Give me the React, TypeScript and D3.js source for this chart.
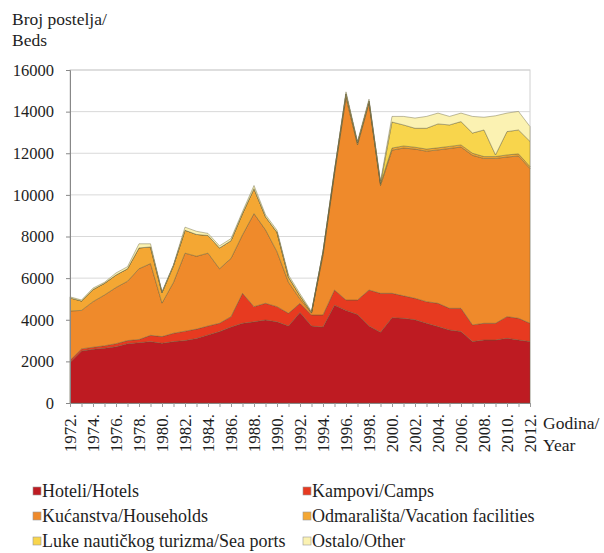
import * as d3 from "d3";
import { useEffect, useRef } from "react";

// Broj postelja po vrsti smještaja, 1972.-2012.
const years = d3.range(1972, 2013);

const hotels = [
  1950, 2500, 2580, 2630, 2700, 2850, 2900, 2950, 2870, 2950, 3000, 3100, 3270,
  3430, 3650, 3830, 3900, 3990, 3900, 3700, 4350, 3700, 3650, 4700, 4450, 4250,
  3700, 3400, 4100, 4070, 4000, 3830, 3670, 3510, 3430, 2950, 3030, 3030, 3110,
  3030, 2950,
];
const camps = [
  100, 100, 100, 120, 150, 150, 150, 300, 320, 400, 450, 450, 430, 400, 500,
  1440, 730, 800, 730, 610, 440, 530, 580, 730, 500, 700, 1730, 1870, 1170,
  1080, 1030, 1040, 1120, 1040, 1120, 800, 800, 800, 1040, 1040, 880,
];
const households = [
  2370, 1850, 2190, 2440, 2700, 2850, 3400, 3450, 1610, 2450, 3750, 3500, 3500,
  2620, 2800, 2810, 4470, 3530, 2640, 1490, 210, 90, 2870, 5570, 9720, 7450,
  8970, 5180, 6880, 7100, 7170, 7230, 7370, 7680, 7750, 8150, 7920, 7920, 7670,
  7800, 7430,
];
const vacation = [
  630, 450, 580, 560, 600, 600, 1000, 800, 500, 800, 1100, 1050, 850, 1000, 850,
  1020, 1200, 630, 930, 250, 150, 30, 150, 150, 180, 100, 100, 100, 100, 100,
  90, 100, 100, 100, 100, 100, 90, 90, 100, 100, 100,
];
const seaPorts = [
  0, 0, 0, 0, 0, 0, 0, 0, 0, 0, 0, 0, 0, 0, 0, 0, 0, 0, 0, 0, 0, 0, 0, 0, 0, 0,
  0, 0, 1250, 1010, 910, 1000, 1150, 1030, 1120, 970, 1280, 80, 1120, 1150,
  1210,
];
const other = [
  50, 50, 70, 50, 100, 100, 200, 150, 50, 50, 150, 150, 100, 100, 100, 100, 150,
  100, 100, 100, 100, 50, 50, 50, 100, 70, 100, 100, 270, 410, 490, 570, 520,
  410, 410, 800, 610, 1880, 890, 890, 710,
];

const seriesNames = [
  "Hoteli/Hotels",
  "Kampovi/Camps",
  "Kućanstva/Households",
  "Odmarališta/Vacation facilities",
  "Luke nautičkog turizma/Sea ports",
  "Ostalo/Other",
];
const seriesValues = [hotels, camps, households, vacation, seaPorts, other];
const colors = ["#be1b22", "#e73a20", "#ef8a2b", "#f4a733", "#f8d54c", "#fbf2b2"];
const yTicks = [0, 2000, 4000, 6000, 8000, 10000, 12000, 14000, 16000];

type Row = { year: number } & Record<string, number>;

const App = () => {
  const ref = useRef<SVGSVGElement>(null);

  useEffect(() => {
    const width = 604;
    const height = 553;
    const margin = { top: 70, right: 74, bottom: 150, left: 70 };
    const font = '"Liberation Serif", "DejaVu Serif", "Times New Roman", serif';
    const textColor = "#1e1e1e";

    const rows: Row[] = years.map((year, i) => {
      const r: Row = { year } as Row;
      seriesNames.forEach((name, s) => (r[name] = seriesValues[s][i]));
      return r;
    });

    const stacked = d3.stack<Row>().keys(seriesNames)(rows);

    const x = d3
      .scaleLinear()
      .domain([1972, 2012])
      .range([margin.left, width - margin.right]);
    const y = d3
      .scaleLinear()
      .domain([0, 16000])
      .range([height - margin.bottom, margin.top]);

    const svg = d3.select(ref.current);
    svg.selectAll("*").remove();
    svg.style("font-family", font);

    // grid
    svg
      .append("g")
      .selectAll("line")
      .data(yTicks.slice(1))
      .join("line")
      .attr("x1", margin.left)
      .attr("x2", width - margin.right)
      .attr("y1", (d) => y(d))
      .attr("y2", (d) => y(d))
      .attr("stroke", "#d9d9d9")
      .attr("stroke-width", 1);

    svg
      .append("rect")
      .attr("x", margin.left)
      .attr("y", margin.top)
      .attr("width", width - margin.left - margin.right)
      .attr("height", height - margin.top - margin.bottom)
      .attr("fill", "none")
      .attr("stroke", "#d0d0d0");

    const area = d3
      .area<d3.SeriesPoint<Row>>()
      .x((d) => x(d.data.year))
      .y0((d) => y(d[0]))
      .y1((d) => y(d[1]));

    svg
      .append("g")
      .selectAll("path")
      .data(stacked)
      .join("path")
      .attr("d", (d) => area(d))
      .attr("fill", (d, i) => colors[i])
      .attr("stroke", "rgba(95,90,55,0.45)")
      .attr("stroke-width", 0.9)
      .attr("stroke-linejoin", "round");

    // y axis
    const yAxis = svg
      .append("g")
      .attr("transform", `translate(${margin.left},0)`)
      .call(d3.axisLeft(y).tickValues(yTicks).tickSize(4).tickFormat(d3.format("d")));
    yAxis.select(".domain").attr("stroke", "#888");
    yAxis.selectAll(".tick line").attr("stroke", "#888");
    yAxis
      .selectAll(".tick text")
      .style("font-family", font)
      .attr("font-size", 16.5)
      .attr("fill", textColor)
      .attr("x", -16);

    // x axis
    const xAxis = svg
      .append("g")
      .attr("transform", `translate(0,${height - margin.bottom})`)
      .call(
        d3
          .axisBottom(x)
          .tickValues(years)
          .tickSize(4)
          .tickFormat((d) => ((d as number) % 2 === 0 ? `${d}.` : ""))
      );
    xAxis.select(".domain").attr("stroke", "#888");
    xAxis.selectAll(".tick line").attr("stroke", "#999");
    xAxis
      .selectAll(".tick text")
      .style("font-family", font)
      .attr("font-size", 17)
      .attr("fill", textColor)
      .attr("transform", "rotate(-90)")
      .attr("text-anchor", "end")
      .attr("x", -11)
      .attr("y", 0)
      .attr("dy", "0.35em");

    // axis titles
    const titles = [
      { t: "Broj postelja/", x: 12, y: 25 },
      { t: "Beds", x: 12, y: 46 },
      { t: "Godina/", x: 543, y: 429 },
      { t: "Year", x: 543, y: 451 },
    ];
    svg
      .append("g")
      .selectAll("text")
      .data(titles)
      .join("text")
      .attr("x", (d) => d.x)
      .attr("y", (d) => d.y)
      .attr("font-size", 17.5)
      .attr("fill", textColor)
      .text((d) => d.t);

    // legend
    const legend = svg
      .append("g")
      .selectAll("g")
      .data(seriesNames)
      .join("g")
      .attr(
        "transform",
        (d, i) => `translate(${i % 2 === 0 ? 33 : 303},${491 + Math.floor(i / 2) * 25})`
      );
    legend
      .append("rect")
      .attr("x", 0)
      .attr("y", -4)
      .attr("width", 8)
      .attr("height", 8)
      .attr("fill", (d, i) => colors[i])
      .attr("stroke", "#999")
      .attr("stroke-width", 0.6);
    legend
      .append("text")
      .attr("x", 9)
      .attr("y", 0)
      .attr("dy", "0.35em")
      .attr("font-size", 18)
      .attr("fill", textColor)
      .text((d) => d);
  }, []);

  return (
    <svg
      ref={ref}
      width={604}
      height={553}
      style={{ position: "absolute", left: 0, top: 0, background: "#fff" }}
    />
  );
};

export default App;
